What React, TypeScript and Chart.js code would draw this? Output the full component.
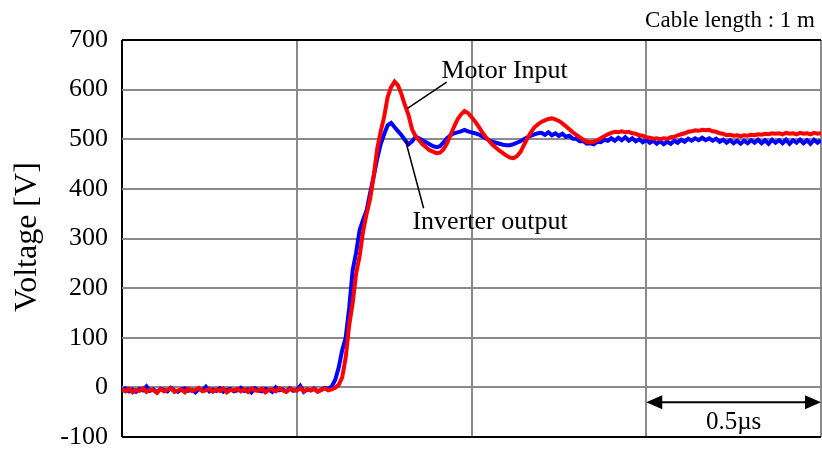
import { useEffect, useRef } from "react";
import { Chart, registerables } from "chart.js";

Chart.register(...registerables);

// Sampling interval of the recorded waveforms, in microseconds.
const SAMPLE_STEP_US = 0.01;

// Inverter output voltage [V], one sample per SAMPLE_STEP_US starting at t = 0.
const inverterOutput: number[] = [
  -6, -2, -8, -4, -9, -3, -6, 2, -7, -4,
  -10, -3, -5, -8, -1, -6, -9, -4, -2, -7,
  -5, -10, -3, -6, 1, -8, -4, -7, -2, -9,
  -5, -3, -8, -6, -1, -7, -4, -10, -2, -6,
  -8, -3, -5, -9, 0, -6, -4, -8, -2, -7,
  -5, 3, -9, -4, -6, -2, -8, -5, -1, -3,
  2,
  15, 40, 75, 100, 160, 236, 272, 317, 338, 357,
  392, 425, 460, 490, 510, 528, 533, 524, 516, 508,
  498, 490, 496, 505, 502, 498, 494, 490, 486, 484,
  486, 494, 502, 508, 512, 514, 516, 519, 516, 514,
  512, 510, 506, 502, 498, 495, 493, 491, 489, 488,
  488, 490, 493, 496, 500, 504, 507, 510, 512, 513,
  509, 514, 508, 512, 507, 511, 505, 507, 501, 501,
  496, 496, 491, 492, 490, 495, 494, 499, 497, 502,
  497, 503, 498, 504, 497, 502, 496, 500, 494, 499,
  493, 497, 491, 496, 490, 495, 491, 497, 493, 499,
  495, 501, 497, 502, 498, 503, 498, 502, 497, 501,
  495, 499, 493, 498, 492, 497, 491, 497, 492, 498,
  493, 499, 492, 498, 491, 499, 493, 498, 492, 499,
  491, 498, 493, 499, 492, 498, 491, 499, 493, 498,
];

// Motor terminal voltage [V], same sampling.
const motorInput: number[] = [
  -4, -8, -3, -10, -5, -7, -2, -9, -4, -6,
  -11, -3, -8, -5, -2, -9, -6, -4, -10, -3,
  -7, -5, -1, -8, -6, -3, -9, -4, -7, -2,
  -10, -5, -6, -3, -8, -4, -9, -2, -6, -7,
  -3, -10, -5, -4, -8, -2, -6, -9, -3, -5,
  -7, -1, -8, -4, -6, -3, -9, -5, -2, -6,
  -4, -1,
  5, 20, 60, 125, 170, 230, 265, 315, 350,
  380, 425, 480, 515, 545, 585, 605, 616, 608, 590,
  568, 548, 520, 506, 498, 490, 484, 478, 475, 472,
  473, 480, 492, 508, 525, 540, 550, 557, 553, 545,
  536, 526, 515, 505, 497, 489, 483, 477, 472, 467,
  463, 462, 466, 474, 488, 502, 514, 524, 530, 535,
  538, 541, 542, 540, 537, 532, 526, 520, 514, 509,
  504, 499, 495, 494, 495, 498, 502, 506, 510, 513,
  515, 514, 516, 514, 515, 512, 511, 508, 507, 504,
  503, 501, 502, 500, 502, 501, 504, 505, 508, 510,
  512, 515, 516, 518, 517, 519, 518, 519, 516, 515,
  512, 511, 508, 509, 507, 508, 506, 508, 507, 509,
  508, 510, 509, 511, 510, 512, 511, 512, 510, 513,
  511, 512, 510, 513, 511, 512, 510, 513, 511, 512,
];

// Axis ranges (time in microseconds, voltage in volts).
const TIME_MIN = 0;
const TIME_MAX = 2.0;
const TIME_DIVISION = 0.5;
const VOLT_MIN = -100;
const VOLT_MAX = 700;
const VOLT_STEP = 100;

const SERIF = '"Liberation Serif", "Times New Roman", serif';
const GRID_GREY = "#8a8a8a";

const toPoints = (values: number[]) =>
  values.map((v, i) => ({ x: i * SAMPLE_STEP_US, y: v }));

// Callouts, scale bar and captions drawn over the plot.
const waveAnnotations = {
  id: "waveAnnotations",
  afterDraw(chart: Chart) {
    const { ctx } = chart;
    const x = chart.scales.x;
    const y = chart.scales.y;
    const px = (t: number) => x.getPixelForValue(t);
    const py = (v: number) => y.getPixelForValue(v);

    ctx.save();
    ctx.fillStyle = "#000";
    ctx.strokeStyle = "#000";

    // Series callouts with leader lines
    ctx.font = `26px ${SERIF}`;
    ctx.textAlign = "left";
    ctx.textBaseline = "alphabetic";
    ctx.fillText("Motor Input", px(0.914), py(623));
    ctx.fillText("Inverter output", px(0.831), py(320));

    ctx.lineWidth = 1.5;
    ctx.beginPath();
    ctx.moveTo(px(0.929), py(615));
    ctx.lineTo(px(0.817), py(562));
    ctx.moveTo(px(0.811), py(498));
    ctx.lineTo(px(0.863), py(361));
    ctx.stroke();

    // 0.5 µs scale bar spanning the last time division
    const barY = py(-30);
    const x0 = px(TIME_MAX - TIME_DIVISION);
    const x1 = px(TIME_MAX);
    const head = 16;
    const half = 7;
    ctx.lineWidth = 2;
    ctx.beginPath();
    ctx.moveTo(x0 + head - 2, barY);
    ctx.lineTo(x1 - head + 2, barY);
    ctx.stroke();
    ctx.beginPath();
    ctx.moveTo(x0, barY);
    ctx.lineTo(x0 + head, barY - half);
    ctx.lineTo(x0 + head, barY + half);
    ctx.closePath();
    ctx.moveTo(x1, barY);
    ctx.lineTo(x1 - head, barY - half);
    ctx.lineTo(x1 - head, barY + half);
    ctx.closePath();
    ctx.fill();

    ctx.font = `25px ${SERIF}`;
    ctx.textAlign = "center";
    ctx.fillText("0.5\u00b5s", (x0 + x1) / 2, py(-83));

    // Test condition caption
    ctx.font = `23px ${SERIF}`;
    ctx.textAlign = "right";
    ctx.fillText("Cable length : 1 m", 815, 27);

    // Vertical axis title
    ctx.font = `32px ${SERIF}`;
    ctx.textAlign = "center";
    ctx.textBaseline = "middle";
    ctx.translate(28, 237);
    ctx.rotate(-Math.PI / 2);
    ctx.fillText("Voltage [V]", 0, 0);

    ctx.restore();
  },
};

export default function App() {
  const canvasRef = useRef<HTMLCanvasElement | null>(null);

  useEffect(() => {
    const canvas = canvasRef.current;
    if (!canvas) return;

    const chart = new Chart(canvas, {
      type: "line",
      data: {
        datasets: [
          {
            label: "Motor Input",
            data: toPoints(motorInput),
            borderColor: "#ff0000",
            borderWidth: 4,
            pointRadius: 0,
            order: 0,
          },
          {
            label: "Inverter output",
            data: toPoints(inverterOutput),
            borderColor: "#0000ff",
            borderWidth: 4,
            pointRadius: 0,
            order: 1,
          },
        ],
      },
      options: {
        animation: false,
        responsive: false,
        maintainAspectRatio: false,
        parsing: false,
        layout: { padding: { top: 40, right: 1, bottom: 0, left: 0 } },
        plugins: {
          legend: { display: false },
          tooltip: { enabled: false },
        },
        elements: { line: { tension: 0 } },
        scales: {
          x: {
            type: "linear",
            min: TIME_MIN,
            max: TIME_MAX,
            ticks: { display: false, stepSize: TIME_DIVISION },
            grid: {
              drawTicks: false,
              lineWidth: 2,
              color: (c: any) => (c.tick && c.tick.value === TIME_MIN ? "#000" : GRID_GREY),
            },
            border: { display: false },
            afterFit(scale: any) {
              scale.height = 13;
              scale.paddingLeft = 0;
              scale.paddingRight = 0;
            },
          },
          y: {
            type: "linear",
            min: VOLT_MIN,
            max: VOLT_MAX,
            ticks: {
              stepSize: VOLT_STEP,
              color: "#000",
              padding: 14,
              font: { family: SERIF, size: 26 },
            },
            grid: {
              drawTicks: false,
              lineWidth: 2,
              color: (c: any) =>
                c.tick && (c.tick.value === VOLT_MIN || c.tick.value === VOLT_MAX)
                  ? "#000"
                  : GRID_GREY,
            },
            border: { display: false },
            afterFit(scale: any) {
              scale.width = 122;
              scale.paddingTop = 0;
              scale.paddingBottom = 0;
            },
          },
        },
      },
      plugins: [waveAnnotations],
    });

    return () => chart.destroy();
  }, []);

  return (
    <div style={{ position: "fixed", left: 0, top: 0, width: 822, height: 450, background: "#fff" }}>
      <canvas ref={canvasRef} width={822} height={450} />
    </div>
  );
}
